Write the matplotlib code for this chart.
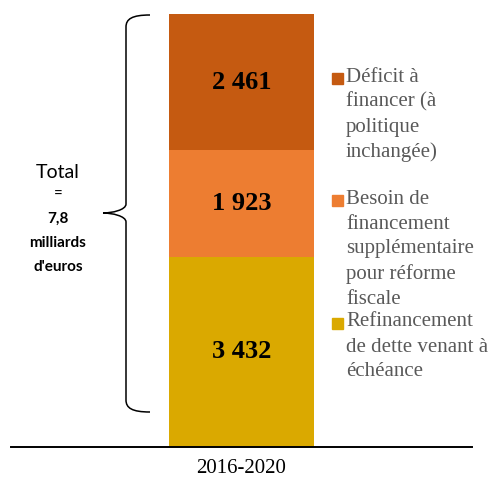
"""Stacked bar: besoins de financement 2016-2020."""
import matplotlib
matplotlib.use("Agg")
import matplotlib.pyplot as plt
from matplotlib.path import Path
from matplotlib.patches import PathPatch, Rectangle

# data
period = ["2016-2020"]
series = ["Refinancement\nde dette venant à\néchéance",
          "Besoin de\nfinancement\nsupplémentaire\npour réforme\nfiscale",
          "Déficit à\nfinancer (à\npolitique\ninchangée)"]
values = [3432, 1923, 2461]
value_labels = ["3 432", "1 923", "2 461"]
colors = ["#DAA900", "#ED7D31", "#C55A11"]
total_lines = ["Total", "=", "7,8", "milliards", "d'euros"]

W, H = 493, 479
fig = plt.figure(figsize=(W / 100, H / 100), dpi=100)

# main bar axes
ax = fig.add_axes([11 / W, 32.3 / H, 461 / W, 432.7 / H])
bottom = 0
for v, lab, c in zip(values, value_labels, colors):
    ax.bar(0, v, width=1, bottom=bottom, color=c)
    ax.text(0, bottom + v / 2, lab, ha="center", va="center",
            fontsize=19, fontweight="bold", family="Liberation Serif")
    bottom += v
ax.set_xlim(-1.59, 1.59)
ax.set_ylim(0, sum(values))
for s in ["left", "right", "top"]:
    ax.spines[s].set_visible(False)
ax.spines["bottom"].set_linewidth(1.4)
ax.set_yticks([])
ax.set_xticks([0])
ax.set_xticklabels(period, family="Liberation Serif", fontsize=15)
ax.tick_params(axis="x", length=0, pad=9)

# overlay in pixel coords for brace, total text and legend
ov = fig.add_axes([0, 0, 1, 1])
ov.set_xlim(0, W)
ov.set_ylim(H, 0)
ov.axis("off")

verts = [(150, 15), (132, 15), (126, 19), (126, 27),
         (126, 204),
         (126, 210), (112, 213), (103, 213),
         (112, 213), (126, 216), (126, 222),
         (126, 400),
         (126, 408), (132, 412), (150, 412)]
codes = [Path.MOVETO, Path.CURVE4, Path.CURVE4, Path.CURVE4,
         Path.LINETO,
         Path.CURVE4, Path.CURVE4, Path.CURVE4,
         Path.CURVE4, Path.CURVE4, Path.CURVE4,
         Path.LINETO,
         Path.CURVE4, Path.CURVE4, Path.CURVE4]
ov.add_patch(PathPatch(Path(verts, codes), fill=False, lw=1.1, color="black"))

total_y = [172, 195, 219, 243, 267]
for i, (t, y) in enumerate(zip(total_lines, total_y)):
    bold = i >= 2
    ov.text(58, y, t, ha="center", va="center", family="Lato",
            fontsize=11 if bold else (14 if i == 0 else 11),
            fontweight="bold" if bold else "normal")

# legend, top entry first
leg_y = [77, 199, 322]
for lab, c, y in zip(series[::-1], colors[::-1], leg_y):
    ov.add_patch(Rectangle((332, y - 4), 10.5, 10.5, color=c))
    for k, line in enumerate(lab.split("\n")):
        ov.text(346, y + k * 25, line, ha="left", va="center",
                family="Liberation Serif", fontsize=15, color="#595959")

fig.savefig("out.png", dpi=100)
